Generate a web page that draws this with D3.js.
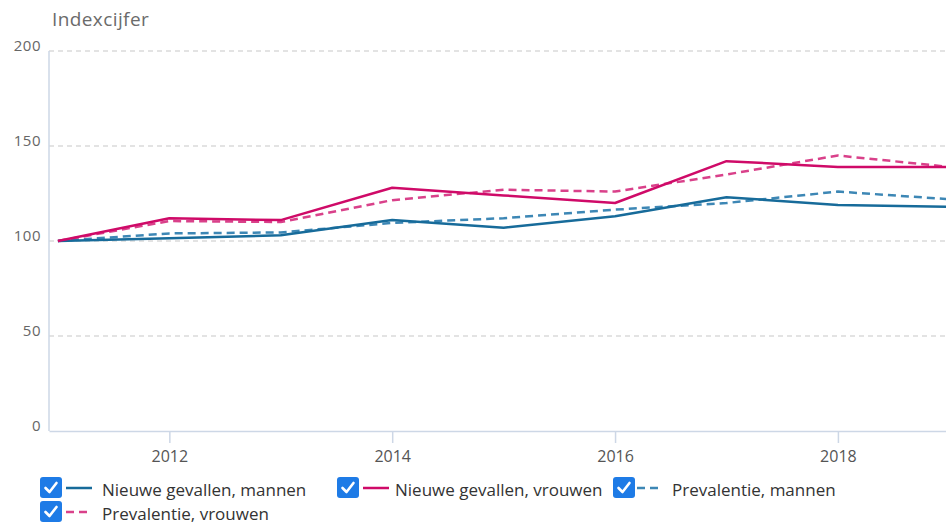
<!DOCTYPE html>
<html><head><meta charset="utf-8">
<script src="https://cdn.jsdelivr.net/npm/d3@7"></script>
<style>body{margin:0;background:#fff;font-family:"Open Sans",sans-serif;}</style>
</head><body><svg id="c" width="946" height="524"></svg>
<script>
const years = [2011,2012,2013,2014,2015,2016,2017,2018,2019];
const nieuweMannen   = [100,101.5,103,111,107,113,123,119,118];
const nieuweVrouwen  = [100,112,111,128,124,120,142,139,139];
const prevMannen     = [100,104,104.5,109.5,112,116.5,120,126,122];
const prevVrouwen    = [100,110.5,110,121.5,127,126,135,145,139];
const yTicks = [0,50,100,150,200];
const xTicks = [2012,2014,2016,2018];
const seriesNames = ["Nieuwe gevallen, mannen","Nieuwe gevallen, vrouwen","Prevalentie, mannen","Prevalentie, vrouwen"];

const series = [
  {name:seriesNames[0], values:nieuweMannen, color:"#176b9a", dash:null},
  {name:seriesNames[1], values:nieuweVrouwen, color:"#cf0a68", dash:null},
  {name:seriesNames[2], values:prevMannen, color:"#3d87b5", dash:"8,5"},
  {name:seriesNames[3], values:prevVrouwen, color:"#d9418a", dash:"8,5"}
];

const svg = d3.select("#c");
const mLeft = 49, mRight = 946, mTop = 51, mBottom = 431;
const x = d3.scaleLinear().domain([2010.92, 2018.97]).range([mLeft, mRight]);
const y = d3.scaleLinear().domain([0,200]).range([mBottom, mTop]);

svg.append("text").attr("x",52).attr("y",26).attr("fill","#6b6b6b")
  .style("font-size","19px").style("letter-spacing","0.4px").text("Indexcijfer");

// gridlines
svg.append("g").selectAll("line").data(yTicks.filter(d=>d>0)).join("line")
  .attr("x1",mLeft).attr("x2",mRight).attr("y1",d=>y(d)).attr("y2",d=>y(d))
  .attr("stroke","#c8c8c8").attr("stroke-width",1.2).attr("stroke-dasharray","5,4");

// y labels
svg.append("g").selectAll("text").data(yTicks).join("text")
  .attr("x",41).attr("y",d=>y(d)).attr("text-anchor","end")
  .attr("fill","#666").style("font-size","15px").style("letter-spacing","0.5px").text(d=>d);

// axes
const xAxis = d3.axisBottom(x).tickValues(xTicks).tickFormat(d3.format("d")).tickSize(12).tickSizeOuter(0).tickPadding(8);
const gx = svg.append("g").attr("transform",`translate(0,${mBottom})`).call(xAxis);
gx.select(".domain").attr("stroke","#cdd7e6").attr("stroke-width",1.5);
gx.selectAll(".tick line").attr("stroke","#cdd7e6").attr("stroke-width",1.5);
gx.selectAll(".tick text").attr("fill","#555").style("font-size","16px").style("font-family","'Open Sans',sans-serif");
svg.append("line").attr("x1",mLeft).attr("x2",mLeft).attr("y1",mTop).attr("y2",mBottom)
  .attr("stroke","#cdd7e6").attr("stroke-width",1.5);

// lines
svg.append("clipPath").attr("id","pc").append("rect")
  .attr("x",mLeft).attr("y",0).attr("width",mRight-mLeft).attr("height",mBottom);
const line = d3.line().x((d,i)=>x(years[i])).y(d=>y(d));
const drawOrder = [2,3,0,1];
svg.append("g").attr("clip-path","url(#pc)").selectAll("path").data(drawOrder.map(i=>series[i])).join("path")
  .attr("d",d=>line(d.values)).attr("fill","none").attr("stroke",d=>d.color)
  .attr("stroke-width",2.5).attr("stroke-dasharray",d=>d.dash).attr("stroke-linejoin","round");

// legend
const legPos = [[40,477],[337,477],[613,477],[40,501]];
const legLine = [[26,52],[26,52],[24,47],[26,49]];
const legText = [62,58,59,62];
const lg = svg.append("g").selectAll("g").data(series).join("g")
  .attr("transform",(d,i)=>`translate(${legPos[i][0]},${legPos[i][1]})`);
lg.append("rect").attr("width",22).attr("height",21).attr("rx",3).attr("fill","#1e7be6");
lg.append("path").attr("d","M5.5,11 L9.5,15 L16.5,6").attr("fill","none").attr("stroke","#fff").attr("stroke-width",2.6).attr("stroke-linecap","round").attr("stroke-linejoin","round");
lg.append("line").attr("x1",(d,i)=>legLine[i][0]).attr("x2",(d,i)=>legLine[i][1]).attr("y1",11).attr("y2",11)
  .attr("stroke",d=>d.color).attr("stroke-width",2.5).attr("stroke-dasharray",d=>d.dash?"8,5":null);
lg.append("text").attr("x",(d,i)=>legText[i]).attr("y",18.5).attr("fill","#333")
  .style("font-size","17px").text(d=>d.name);
</script></body></html>
